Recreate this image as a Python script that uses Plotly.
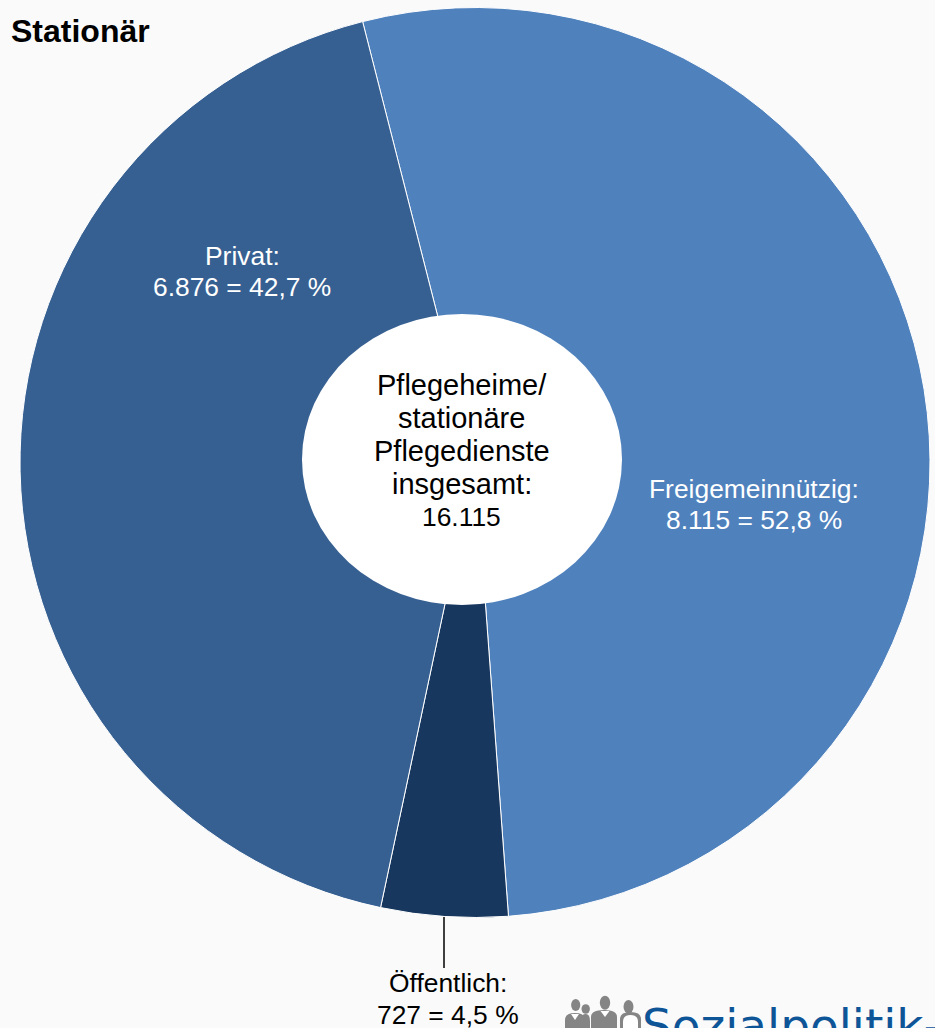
import plotly.graph_objects as go

W, H = 935, 1028
categories = ["Freigemeinnützig", "Öffentlich", "Privat"]
shares = [52.8, 4.5, 42.7]
counts = ["8.115", "727", "6.876"]
share_labels = ["52,8", "4,5", "42,7"]
colors = ["#4F81BD", "#17375E", "#376092"]
center_lines = ["Pflegeheime/", "stationäre", "Pflegedienste", "insgesamt:"]
center_total = "16.115"
title = "Stationär"
logo = "Sozialpolitik-"

def px(x): return x / W
def py(y): return 1 - y / H

fig = go.Figure(go.Pie(
    labels=categories, values=shares, sort=False, direction="clockwise",
    rotation=-14.3, hole=0, textinfo="none", hoverinfo="label+percent",
    marker=dict(colors=colors, line=dict(color="white", width=1)),
    domain=dict(x=[px(20), px(930)], y=[py(917.5), py(7.5)]),
    showlegend=False,
))

FONT = "Liberation Sans, Arial, sans-serif"
def label(x, y, text, color, size=26.4, bold=False, anchor="center"):
    fig.add_annotation(x=px(x), y=py(y), xref="paper", yref="paper", text=f"<b>{text}</b>" if bold else text,
                       showarrow=False, xanchor=anchor, yanchor="middle", align="center",
                       font=dict(family=FONT, size=size, color=color))

def shape_path(d, color):
    fig.add_shape(type="path", xref="paper", yref="paper", path=d, fillcolor=color, line_width=0)

def oval(cx, cy, rx, ry, color):
    fig.add_shape(type="circle", xref="paper", yref="paper", x0=px(cx - rx), x1=px(cx + rx),
                  y0=py(cy + ry), y1=py(cy - ry), fillcolor=color, line_width=0)

# white centre disc
oval(462, 459.5, 160, 145.5, "white")

label(9, 31, title, "black", size=32, bold=True, anchor="left")
for i, line in enumerate(center_lines):
    label(461.5, 385 + 33 * i, line, "black", size=29)
label(461.5, 517, center_total, "black", size=26.4)
label(754, 489, categories[0] + ":", "white")
label(754, 520, f"{counts[0]} = {share_labels[0]} %", "white")
label(242.5, 256, categories[2] + ":", "white")
label(242.5, 287, f"{counts[2]} = {share_labels[2]} %", "white")
label(448, 983, categories[1] + ":", "black")
label(448, 1015, f"{counts[1]} = {share_labels[1]} %", "black")

# leader line
fig.add_shape(type="line", xref="paper", yref="paper", x0=px(444), x1=px(444), y0=py(917), y1=py(968),
              line=dict(color="black", width=1.5))

# logo: people icon
gray = "#858585"
def body(x0, x1, top, color):
    cx = (x0 + x1) / 2
    d = (f"M {px(x0)},{py(1030)} L {px(x0)},{py(top + 7)} Q {px(x0)},{py(top)} {px(cx)},{py(top)} "
         f"Q {px(x1)},{py(top)} {px(x1)},{py(top + 7)} L {px(x1)},{py(1030)} Z")
    shape_path(d, color)

def collar(cx, top, half, depth):
    shape_path(f"M {px(cx - half)},{py(top)} L {px(cx + half)},{py(top)} L {px(cx)},{py(top + depth)} Z", "white")

body(581, 590, 1014, gray); oval(585.7, 1009, 4.2, 4.8, gray)
body(565, 585, 1013, gray); oval(575.7, 1005, 4.6, 6, gray); collar(575, 1014, 4, 6)
body(591, 617, 1010, gray); oval(605, 1002.7, 5.2, 7, gray); collar(605, 1011, 4.5, 6)
body(620, 641, 1012, gray); oval(628.5, 1006.7, 5, 6.8, gray)
body(623, 638, 1015, "white")

fig.add_annotation(x=px(640), y=py(995.5), xref="paper", yref="paper", text=logo, showarrow=False,
                   xanchor="left", yanchor="top", font=dict(family="DejaVu Sans", size=47, color="#0E5598"))

fig.update_layout(width=W, height=H, margin=dict(l=0, r=0, t=0, b=0),
                  paper_bgcolor="#FAFAFA", plot_bgcolor="#FAFAFA")
fig.write_html("out.html", config=dict(displayModeBar=False),
               post_script="document.body.style.margin='0';document.body.style.background='#FAFAFA';")
